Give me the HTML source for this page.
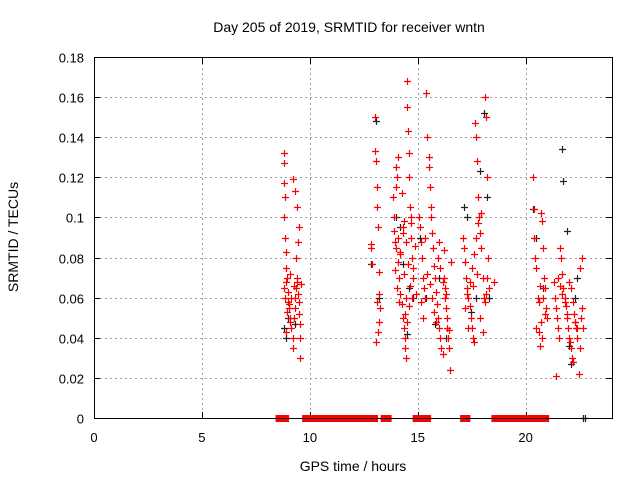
<!DOCTYPE html>
<html><head><meta charset="utf-8"><style>
body{margin:0;background:#fff}
svg{display:block;font-family:"Liberation Sans",sans-serif}
</style></head><body>
<svg id="chart" width="640" height="480">
<rect width="640" height="480" fill="#fff"/>
<text x="349" y="32" font-size="14" text-anchor="middle">Day 205 of 2019, SRMTID for receiver wntn</text>
<text transform="translate(18,237) rotate(-90)" font-size="14" text-anchor="middle">SRMTID / TECUs</text>
<text x="353" y="471" font-size="14" text-anchor="middle">GPS time / hours</text>
<g id="grid"></g>
<g id="ticks"></g>
<g id="marks"></g>
<rect x="94.5" y="57.5" width="518" height="361" fill="none" stroke="#000"/>
</svg>
<script>
const xTicks=[0,5,10,15,20];
const yTicks=[0,0.02,0.04,0.06,0.08,0.1,0.12,0.14,0.16,0.18];
const yTickLabels=["0","0.02","0.04","0.06","0.08","0.1","0.12","0.14","0.16","0.18"];
const redHours=[8.8,8.8,8.8,8.85,8.8,8.85,8.9,8.9,8.95,8.8,8.85,9.0,9.05,9.1,9.1,9.15,9.2,9.2,9.25,9.3,9.3,9.35,9.4,9.4,9.45,9.5,9.5,9.55,9.55,9.6,9.0,8.9,9.1,9.2,9.3,9.4,9.5,9.45,9.35,9.25,9.15,9.05,8.95,8.9,9.55,
12.85,12.85,12.9,13.0,13.05,13.1,13.1,13.15,13.2,13.2,13.25,13.0,13.1,13.2,13.15,13.05,
13.85,13.9,13.9,13.95,14.0,14.0,14.05,14.1,14.1,14.15,14.2,14.2,14.25,14.3,14.3,14.35,14.4,14.4,14.45,14.5,14.5,14.55,14.6,14.6,14.65,14.7,14.7,14.75,14.8,14.8,13.95,14.05,14.15,14.25,14.35,14.45,14.55,14.65,14.75,14.0,14.1,14.2,14.3,14.4,14.5,14.6,14.7,14.85,14.9,14.35,14.45,
15.05,15.1,15.15,15.2,15.25,15.3,15.35,15.4,15.45,15.5,15.55,15.6,15.65,15.7,15.75,15.8,15.85,15.9,15.95,16.0,16.05,16.1,16.15,16.2,16.25,16.3,16.35,16.4,16.45,16.5,16.55,15.15,15.25,15.35,15.45,15.55,15.65,15.75,15.85,15.95,16.05,16.15,16.25,16.35,16.45,15.5,15.6,16.0,16.2,16.3,
17.1,17.15,17.2,17.25,17.3,17.35,17.4,17.45,17.5,17.55,17.6,17.65,17.7,17.75,17.8,17.85,17.9,17.95,18.0,18.05,18.1,18.15,18.2,18.25,18.3,17.2,17.3,17.4,17.5,17.6,17.7,17.8,17.9,18.0,18.1,18.2,17.35,17.55,17.75,17.95,18.15,18.55,
20.35,20.4,20.4,20.45,20.5,20.55,20.6,20.65,20.7,20.75,20.8,20.85,20.9,20.95,21.0,20.5,20.6,20.7,20.8,20.9,20.65,20.75,
21.3,21.35,21.4,21.45,21.5,21.55,21.6,21.65,21.7,21.75,21.8,21.85,21.9,21.95,22.0,22.05,22.1,22.15,22.2,22.25,22.3,22.35,22.4,22.45,22.5,22.55,22.6,22.65,21.4,21.5,21.6,21.7,21.8,21.9,22.0,22.1,22.2,22.3,22.4,22.5,22.6];
const redValues=[.132,.127,.117,.11,.1,.09,.083,.075,.07,.065,.06,.058,.055,.05,.048,.045,.04,.035,.05,.055,.06,.065,.07,.068,.062,.058,.052,.047,.04,.067,.063,.068,.072,.119,.113,.105,.095,.088,.08,.066,.06,.057,.053,.043,.03,
.087,.085,.077,.133,.128,.115,.105,.095,.073,.062,.055,.15,.058,.048,.043,.038,
.11,.1,.093,.088,.085,.125,.12,.09,.078,.07,.062,.083,.057,.095,.05,.045,.04,.035,.06,.168,.155,.143,.132,.12,.105,.1,.09,.08,.07,.075,.074,.065,.058,.112,.098,.088,.077,.066,.06,.115,.13,.082,.092,.052,.048,.056,.097,.086,.062,.072,.03,
.1,.095,.088,.08,.07,.065,.06,.162,.14,.125,.115,.1,.092,.085,.076,.07,.063,.057,.05,.045,.04,.035,.032,.07,.065,.055,.045,.04,.035,.024,.078,.058,.05,.09,.072,.067,.06,.053,.048,.08,.075,.068,.06,.05,.044,.13,.105,.088,.084,.062,
.09,.085,.078,.07,.065,.06,.056,.05,.045,.04,.038,.147,.14,.128,.11,.1,.092,.085,.07,.06,.16,.15,.12,.08,.065,.055,.062,.068,.075,.082,.09,.097,.05,.043,.058,.07,.045,.066,.072,.102,.062,.068,
.12,.104,.09,.08,.075,.06,.058,.066,.102,.098,.085,.07,.065,.055,.05,.045,.043,.048,.06,.052,.036,.04,
.068,.06,.055,.05,.045,.04,.085,.08,.072,.065,.06,.056,.05,.045,.04,.038,.035,.03,.028,.052,.048,.045,.04,.022,.035,.05,.08,.045,.021,.07,.066,.062,.058,.052,.068,.065,.058,.048,.045,.075,.055];
const blackHours=[8.8,8.9,9.0,9.3,13.05,12.85,13.2,14.0,14.2,14.3,14.5,14.6,14.8,15.1,15.4,15.8,16.0,16.3,17.15,17.3,17.45,17.7,17.9,18.05,18.2,18.3,20.35,20.5,20.8,21.7,21.75,21.9,22.0,22.1,22.3,22.4,22.65,22.75];
const blackValues=[.045,.04,.05,.047,.148,.077,.06,.1,.095,.077,.042,.065,.06,.09,.06,.047,.07,.04,.105,.1,.053,.06,.123,.152,.11,.06,.104,.09,.065,.134,.118,.093,.036,.027,.06,.07,0,0];
const zeroStarts=[8.55,9.78,12.68,13.42,14.9,15.1,15.3,17.1,18.55,20.88];
const zeroEnds=[8.9,12.65,13.02,13.65,15.07,15.25,15.48,17.3,20.85,20.95];

const X=h=>94+h*(518/24), Y=v=>418-v*(361/0.18);
const NS="http://www.w3.org/2000/svg";
function mk(tag,attrs,parent){const e=document.createElementNS(NS,tag);for(const k in attrs)e.setAttribute(k,attrs[k]);parent.appendChild(e);return e;}
const grid=document.getElementById('grid'),ticks=document.getElementById('ticks'),marks=document.getElementById('marks');
xTicks.forEach(t=>{const x=Math.round(X(t))+0.5;
 if(t>0){const g=mk('line',{x1:x,x2:x,y1:58,y2:418,stroke:'#a0a0a0','stroke-dasharray':'2,3'},grid);
 
 }
 mk('line',{x1:x,x2:x,y1:418,y2:412,stroke:'#000'},ticks);mk('line',{x1:x,x2:x,y1:58,y2:64,stroke:'#000'},ticks);
 const l=mk('text',{x:X(t),y:442,'font-size':13,'text-anchor':'middle'},ticks);l.textContent=t;
 
 });
yTicks.forEach((t,i)=>{const y=Math.round(Y(t))+0.5;
 if(t>0&&t<0.18){const g=mk('line',{x1:95,x2:612,y1:y,y2:y,stroke:'#a0a0a0','stroke-dasharray':'2,3'},grid);
 
 }
 mk('line',{x1:94,x2:100,y1:y,y2:y,stroke:'#000'},ticks);mk('line',{x1:606,x2:612,y1:y,y2:y,stroke:'#000'},ticks);
 const l=mk('text',{x:84,y:y+5,'font-size':13,'text-anchor':'end'},ticks);l.textContent=yTickLabels[i];
 
 });
zeroStarts.forEach((s,i)=>{const r=mk('rect',{x:X(s)-3,y:415,width:X(zeroEnds[i])-X(s)+6,height:7,fill:'#ff0000'},marks);
 
 });
function plus(h,v,c){const x=Math.round(X(h))+0.5,y=Math.round(Y(v))+0.5;
 const p=mk('path',{d:`M${x-3.5},${y}H${x+3.5}M${x},${y-3.5}V${y+3.5}`,stroke:c,'stroke-width':1.2,fill:'none'},marks);
 
 }
blackHours.forEach((h,i)=>plus(h,blackValues[i],'#222'));
redHours.forEach((h,i)=>plus(h,redValues[i],'#ff0000'));
</script>
</body></html>
